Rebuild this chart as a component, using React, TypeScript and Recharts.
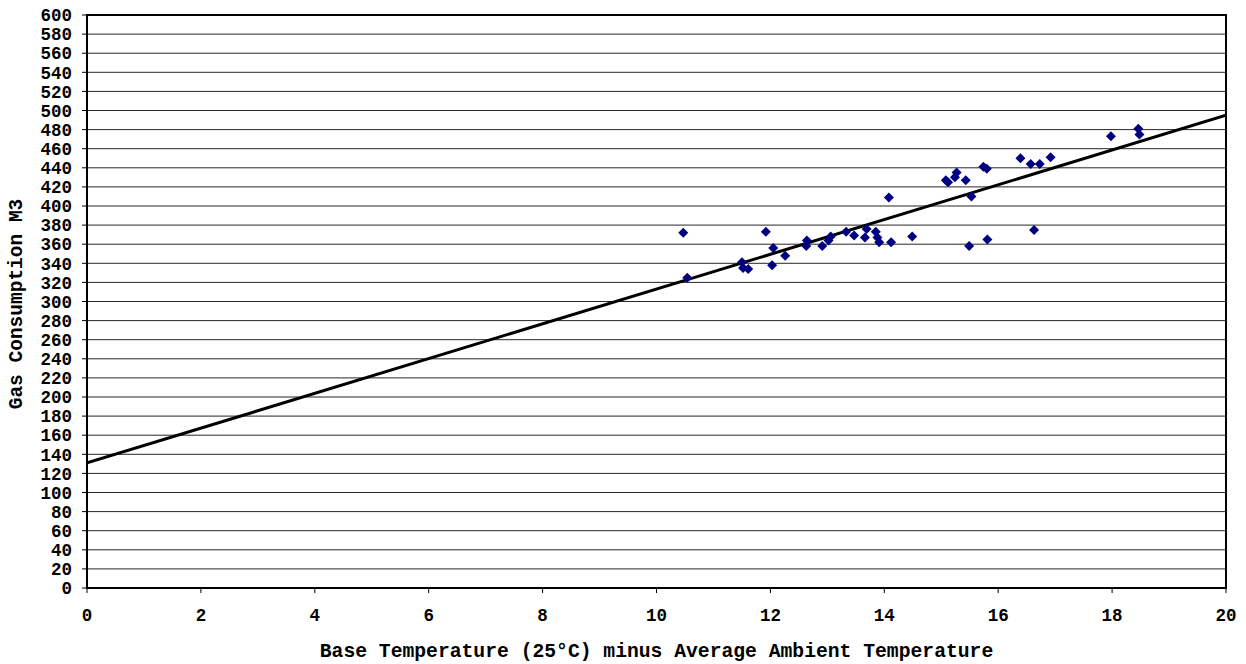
import React from "react";
import {
  ScatterChart,
  Scatter,
  XAxis,
  YAxis,
  CartesianGrid,
  ReferenceArea,
  Label,
} from "recharts";

const tempDiff: number[] = [
  10.47, 10.54, 11.5, 11.52, 11.61, 11.92, 12.05, 12.03, 12.26, 12.64, 12.63,
  12.91, 13.02, 13.06, 13.33, 13.47, 13.69, 13.66, 13.85, 13.88, 13.91, 14.12,
  14.08, 14.49, 15.08, 15.12, 15.24, 15.27, 15.43, 15.53, 15.49, 15.74, 15.8,
  15.81, 16.39, 16.57, 16.63, 16.73, 16.92, 17.98, 18.46, 18.48,
];
const gasUse: number[] = [
  372, 325, 341, 335, 334, 373, 356, 338, 348, 364, 358, 358, 364, 368, 373,
  369, 376, 367, 373, 367, 362, 362, 409, 368, 427, 425, 430, 435, 427, 410,
  358, 441, 439, 365, 450, 444, 375, 444, 451, 473, 481, 475,
];
const trendX: number[] = [0, 20];
const trendY: number[] = [131, 495];
const xTicks: number[] = [0, 2, 4, 6, 8, 10, 12, 14, 16, 18, 20];
const yTicks: number[] = [
  0, 20, 40, 60, 80, 100, 120, 140, 160, 180, 200, 220, 240, 260, 280, 300, 320,
  340, 360, 380, 400, 420, 440, 460, 480, 500, 520, 540, 560, 580, 600,
];

const points = tempDiff.map((x, i) => ({ x, y: gasUse[i] }));
const trend = trendX.map((x, i) => ({ x, y: trendY[i] }));

const FONT = "'Liberation Mono', 'Courier New', monospace";

const Diamond = (props: any) => {
  const { cx, cy } = props;
  if (cx == null || cy == null) return <g />;
  const r = 5;
  return (
    <polygon
      points={`${cx},${cy - r} ${cx + r},${cy} ${cx},${cy + r} ${cx - r},${cy}`}
      fill="#000080"
    />
  );
};

export default function App() {
  const tickStyle = {
    fontFamily: FONT,
    fontWeight: 700,
    fontSize: 17.5,
    fill: "#000",
  };
  return (
    <div
      style={{
        position: "absolute",
        left: 0,
        top: 0,
        width: 1246,
        height: 664,
        background: "#fff",
      }}
    >
      <ScatterChart
        width={1246}
        height={664}
        margin={{ top: 15, right: 20, bottom: 0, left: 0 }}
      >
        <CartesianGrid
          vertical={false}
          stroke="#000"
          strokeWidth={1}
          strokeOpacity={0.85}
        />
        <XAxis
          type="number"
          dataKey="x"
          domain={[0, 20]}
          ticks={xTicks}
          allowDataOverflow
          height={76}
          tickSize={5}
          tickMargin={16}
          axisLine={{ stroke: "#000", strokeWidth: 2 }}
          tickLine={{ stroke: "#000" }}
          tick={tickStyle}
        >
          <Label
            value="Base Temperature (25°C) minus Average Ambient Temperature"
            position="insideBottom"
            offset={7}
            style={{
              fontFamily: FONT,
              fontWeight: 700,
              fontSize: 19.7,
              fill: "#000",
            }}
          />
        </XAxis>
        <YAxis
          type="number"
          dataKey="y"
          domain={[0, 600]}
          ticks={yTicks}
          interval={0}
          allowDataOverflow
          width={87}
          tickSize={5}
          tickMargin={10}
          axisLine={{ stroke: "#000", strokeWidth: 2 }}
          tickLine={{ stroke: "#000" }}
          tick={tickStyle}
        >
          <Label
            content={() => (
              <text
                x={17}
                y={304}
                transform="rotate(-90, 17, 304)"
                textAnchor="middle"
                dominantBaseline="central"
                style={{
                  fontFamily: FONT,
                  fontWeight: 700,
                  fontSize: 19.5,
                  fill: "#000",
                }}
              >
                Gas Consumption M3
              </text>
            )}
          />
        </YAxis>
        <ReferenceArea
          x1={0}
          x2={20}
          y1={0}
          y2={600}
          fill="none"
          fillOpacity={0}
          stroke="#000"
          strokeWidth={2}
          ifOverflow="visible"
        />
        <Scatter
          data={trend}
          line={{ stroke: "#000", strokeWidth: 3 }}
          shape={() => <g />}
          isAnimationActive={false}
        />
        <Scatter
          data={points}
          shape={<Diamond />}
          isAnimationActive={false}
        />
      </ScatterChart>
    </div>
  );
}
